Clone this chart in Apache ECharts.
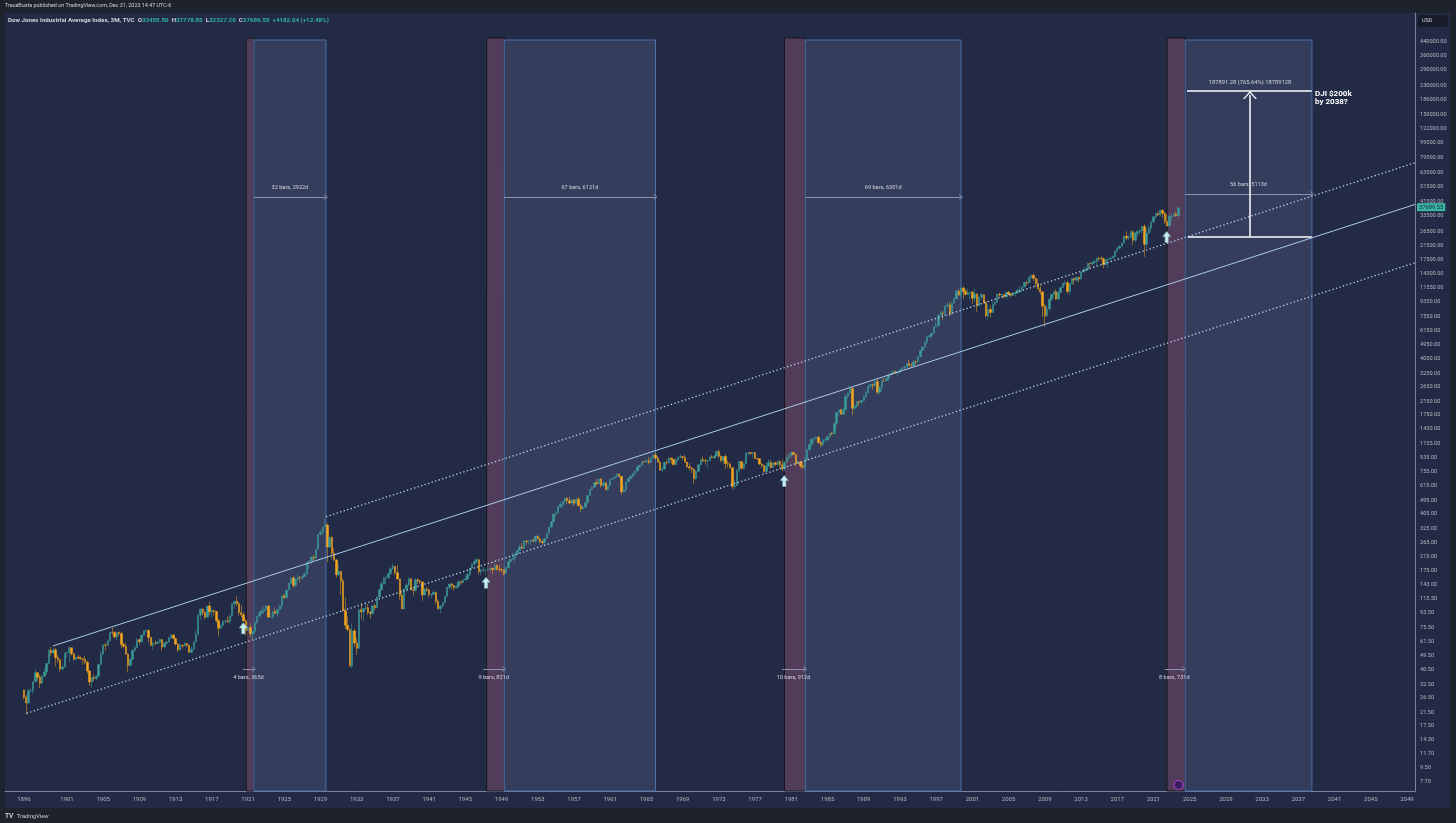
<!DOCTYPE html>
<html>
<head>
<meta charset="utf-8">
<title>Dow Jones Industrial Average Index, 3M</title>
<script src="https://cdn.jsdelivr.net/npm/echarts@6.0.0/dist/echarts.min.js"></script>
<style>
  html, body { margin: 0; padding: 0; background: #1e222d; overflow: hidden; }
  #pane { position: absolute; left: 5px; top: 13px; width: 1445px; height: 795px; background: #232a45; }
  #main { position: absolute; left: 0; top: 0; width: 1456px; height: 823px; }
</style>
</head>
<body>
<div id="pane"></div>
<div id="main"></div>
<script>
// quarterly bars, Apr 1896 .. Oct 2023 (open of each bar = previous close)
var firstBar = 1896.25;
var barStep = 0.25;
var firstOpen = 29.9;

var closes = [
  26.8, 24.6, 29.5,                 // 1896
  29.6, 33.7, 38.5, 36.1,           // 1897
  33.0, 36.6, 38.9, 44.2,
  53.8, 51.6, 54.0, 48.2,
  46.8, 40.8, 42.0, 51.6,           // 1900
  52.0, 55.8, 51.0, 47.1,
  48.5, 47.9, 47.6, 46.9,
  45.0, 39.5, 33.6, 35.9,
  35.4, 36.6, 43.5, 50.8,
  58.1, 57.8, 62.0, 70.2,           // 1905
  70.0, 65.5, 70.0, 68.9,
  58.5, 57.0, 50.8, 42.9,
  47.0, 53.7, 56.0, 62.9,
  61.0, 67.2, 71.5, 72.3,
  65.0, 57.8, 59.6, 59.4,           // 1910
  60.8, 63.0, 56.5, 59.6,
  60.8, 64.5, 67.5, 64.1,
  59.0, 54.0, 58.0, 57.5,
  59.5, 58.0, 52.1, 54.6,
  60.8, 68.0, 90.6, 99.2,           // 1915
  94.0, 87.7, 103.7, 95.0,
  96.7, 95.6, 83.5, 74.4,
  77.5, 82.6, 83.3, 82.2,
  89.0, 107.0, 111.0, 107.2,
  94.0, 91.0, 82.9, 72.0,           // 1920
  75.2, 68.5, 71.1, 81.1,
  89.0, 92.9, 96.3, 98.7,
  103.5, 87.9, 87.9, 95.5,
  92.5, 98.2, 103.4, 120.5,
  117.0, 131.0, 145.0, 156.7,       // 1925
  140.5, 154.0, 158.2, 157.2,
  160.1, 166.2, 197.6, 202.4,
  214.0, 210.8, 240.4, 300.0,
  308.9, 333.8, 343.5, 248.5,
  286.1, 226.3, 204.9, 164.6,       // 1930
  172.4, 150.2, 96.6, 77.9,
  73.3, 42.8, 71.6, 59.9,
  55.4, 98.1, 94.6, 99.9,
  101.0, 94.4, 92.6, 104.0,
  100.8, 118.2, 131.9, 144.1,       // 1935
  156.3, 157.7, 167.8, 179.9,
  186.4, 169.3, 154.6, 120.9,
  99.0, 133.9, 141.5, 154.8,
  131.8, 130.6, 152.5, 150.2,
  147.5, 121.9, 132.6, 131.1,       // 1940
  122.7, 123.1, 126.8, 111.0,
  99.5, 103.3, 109.1, 119.4,
  136.6, 143.4, 140.1, 135.9,
  138.8, 148.4, 146.7, 152.3,
  154.4, 164.9, 181.7, 192.9,       // 1945
  199.8, 205.6, 172.4, 177.2,
  177.2, 177.3, 177.5, 181.2,
  177.2, 189.5, 178.3, 177.3,
  177.1, 167.4, 182.5, 200.1,
  206.1, 209.1, 226.4, 235.4,       // 1950
  247.9, 242.6, 271.2, 269.2,
  269.5, 274.3, 270.6, 291.9,
  279.9, 268.3, 264.0, 280.9,
  303.5, 333.5, 360.5, 404.4,
  409.7, 451.4, 466.6, 488.4,       // 1955
  511.8, 492.8, 475.3, 499.5,
  474.8, 503.3, 456.3, 435.7,
  446.8, 478.2, 532.1, 583.7,
  601.7, 643.6, 632.1, 679.4,
  616.6, 640.6, 580.1, 615.9,       // 1960
  676.6, 684.0, 701.2, 731.1,
  706.9, 561.3, 578.9, 652.1,
  682.5, 706.9, 732.8, 763.0,
  813.3, 831.5, 875.4, 874.1,
  889.1, 868.0, 930.6, 969.3,       // 1965
  924.8, 870.1, 774.2, 785.7,
  866.0, 860.3, 926.7, 905.1,
  840.7, 897.8, 935.8, 943.8,
  935.5, 873.2, 813.1, 800.4,
  785.6, 683.5, 760.7, 838.9,       // 1970
  904.4, 891.1, 887.2, 890.2,
  940.7, 929.0, 953.3, 1020.0,
  951.0, 891.7, 947.1, 850.9,
  846.7, 802.4, 607.9, 616.2,
  768.2, 879.0, 793.9, 852.4,       // 1975
  999.5, 1002.8, 990.2, 1004.7,
  919.1, 916.3, 847.1, 831.2,
  757.4, 819.0, 865.8, 805.0,
  862.2, 842.0, 878.6, 838.7,
  785.8, 867.9, 932.4, 964.0,       // 1980
  1003.9, 976.9, 850.0, 875.0,
  822.8, 811.9, 896.3, 1046.5,
  1130.0, 1222.0, 1233.1, 1258.6,
  1164.9, 1132.4, 1206.7, 1211.6,
  1266.8, 1335.5, 1328.6, 1546.7,   // 1985
  1818.6, 1892.7, 1767.6, 1896.0,
  2304.7, 2418.5, 2596.3, 1938.8,
  1988.1, 2141.7, 2112.9, 2168.6,
  2293.6, 2440.1, 2692.8, 2753.2,
  2707.2, 2880.7, 2452.5, 2633.7,   // 1990
  2913.9, 2906.8, 3016.8, 3168.8,
  3235.5, 3318.5, 3271.7, 3301.1,
  3435.1, 3516.1, 3555.1, 3754.1,
  3636.0, 3625.0, 3843.2, 3834.4,
  4157.7, 4556.1, 4789.1, 5117.1,   // 1995
  5587.1, 5654.6, 5882.2, 6448.3,
  6583.5, 7672.8, 7945.3, 7908.3,
  8799.8, 8952.0, 7842.6, 9181.4,
  9786.2, 10970.8, 10337.0, 11497.1,
  10921.9, 10447.9, 10650.9, 10788.0, // 2000
  9878.8, 10502.4, 8847.6, 10021.5,
  10403.9, 9243.3, 7591.9, 8341.6,
  7992.1, 8985.4, 9275.1, 10453.9,
  10357.7, 10435.5, 10080.3, 10783.0,
  10503.8, 10275.0, 10568.7, 10717.5, // 2005
  11109.3, 11150.2, 11679.1, 12463.2,
  12354.4, 13408.6, 13895.6, 13264.8,
  12262.9, 11350.0, 10850.7, 8776.4,
  7608.9, 8447.0, 9712.3, 10428.1,
  10856.6, 9774.0, 10788.1, 11577.5,  // 2010
  12319.7, 12414.3, 10913.4, 12217.6,
  13212.0, 12880.1, 13437.1, 13104.1,
  14578.5, 14909.6, 15129.7, 16576.7,
  16457.7, 16826.6, 17042.9, 17823.1,
  17776.1, 17619.5, 16284.7, 17425.0, // 2015
  17685.1, 17930.0, 18308.2, 19762.6,
  20663.2, 21349.6, 22405.1, 24719.2,
  24103.1, 24271.4, 26458.3, 23327.5,
  25928.7, 26600.0, 26916.8, 28538.4,
  21917.2, 25812.9, 27781.7, 30606.5, // 2020
  32981.6, 34502.5, 33843.9, 36338.3,
  34678.4, 30775.4, 28725.5, 33147.3,
  33274.2, 34407.6, 33507.5, 37689.55
];

var highs = [
  30.0, 27.6, 30.4,
  31.0, 33.9, 40.7, 39.0,
  37.3, 37.2, 41.0, 44.5,
  54.5, 56.7, 55.7, 55.7,
  50.0, 47.0, 43.4, 51.9,           // 1900
  53.0, 57.1, 56.0, 51.3,
  49.0, 50.0, 49.6, 47.8,
  49.4, 46.0, 40.0, 36.0,
  37.5, 37.0, 43.8, 53.5,
  59.0, 60.0, 63.0, 70.5,           // 1905
  75.2, 71.5, 70.5, 71.0,
  70.4, 60.0, 60.0, 51.5,
  47.5, 54.5, 58.0, 64.5,
  63.5, 68.0, 72.5, 73.4,
  72.5, 65.5, 61.5, 62.0,           // 1910
  61.8, 63.6, 63.2, 60.5,
  61.5, 66.0, 68.7, 68.0,
  64.7, 60.0, 59.5, 58.5,
  60.9, 59.8, 58.5, 56.8,
  61.3, 71.8, 91.0, 99.2,           // 1915
  99.5, 95.5, 104.0, 110.2,
  99.2, 98.6, 96.0, 86.0,
  79.8, 84.0, 84.0, 89.1,
  91.0, 107.5, 112.0, 119.6,
  109.9, 105.0, 94.5, 85.5,         // 1920
  77.0, 80.0, 71.5, 81.5,
  89.0, 96.4, 101.0, 103.4,
  105.4, 105.0, 93.7, 95.6,
  101.3, 98.8, 105.6, 120.5,
  123.6, 131.0, 146.0, 159.4,       // 1925
  162.3, 154.8, 166.6, 161.0,
  162.0, 172.0, 198.0, 202.4,
  214.0, 220.9, 241.7, 300.0,
  322.1, 333.8, 381.2, 352.9,
  286.1, 294.1, 245.1, 207.0,       // 1930
  194.4, 173.2, 155.3, 116.8,
  88.8, 74.0, 79.9, 73.5,
  64.4, 98.1, 108.7, 99.9,
  110.7, 106.4, 96.0, 104.0,
  107.2, 120.0, 134.0, 148.4,       // 1935
  158.8, 163.1, 168.9, 184.9,
  194.4, 187.0, 190.4, 155.0,
  132.0, 134.0, 146.0, 158.4,
  155.5, 139.0, 155.9, 155.5,
  152.8, 150.0, 135.0, 138.1,       // 1940
  133.6, 124.0, 130.1, 127.0,
  114.2, 105.0, 109.6, 119.7,
  136.6, 143.4, 145.8, 141.8,
  141.0, 150.5, 150.8, 152.5,
  162.2, 169.1, 182.0, 195.8,       // 1945
  206.9, 212.5, 206.0, 177.6,
  184.5, 178.0, 186.9, 184.0,
  182.0, 193.2, 191.0, 190.0,
  182.0, 178.0, 184.0, 200.5,
  209.8, 228.4, 226.8, 235.5,       // 1950
  257.1, 263.1, 276.4, 276.0,
  275.4, 275.0, 280.3, 292.0,
  293.8, 282.0, 276.0, 284.0,
  304.0, 336.9, 363.3, 404.4,
  419.7, 451.4, 487.5, 488.4,       // 1955
  513.0, 521.1, 520.9, 503.0,
  500.0, 513.2, 520.8, 465.8,
  458.7, 478.2, 532.1, 583.7,
  609.9, 643.6, 678.1, 679.4,
  685.5, 656.4, 646.4, 617.8,       // 1960
  679.4, 705.5, 726.5, 734.9,
  734.0, 710.0, 616.0, 652.1,
  687.0, 726.9, 746.0, 767.2,
  820.3, 831.5, 875.7, 891.7,
  906.3, 939.6, 930.6, 969.3,       // 1965
  995.2, 954.7, 894.0, 820.9,
  876.7, 909.6, 943.1, 933.0,
  908.9, 919.9, 936.0, 985.2,
  952.7, 968.9, 875.0, 863.1,
  811.3, 792.5, 773.1, 842.0,       // 1970
  916.8, 950.8, 920.9, 893.0,
  950.2, 971.3, 973.5, 1036.3,
  1051.7, 963.2, 947.1, 987.1,
  891.7, 872.0, 804.0, 674.8,
  786.5, 879.0, 881.8, 860.7,       // 1975
  1009.2, 1011.0, 1014.8, 1004.7,
  1006.0, 929.7, 920.0, 856.6,
  835.0, 866.5, 907.7, 901.4,
  862.2, 878.7, 893.9, 897.6,
  903.8, 888.0, 967.7, 1000.2,      // 1980
  1015.2, 1024.1, 980.0, 891.7,
  882.5, 869.2, 936.0, 1070.6,
  1145.9, 1248.3, 1260.8, 1287.2,
  1286.6, 1186.6, 1239.7, 1244.2,
  1299.4, 1335.5, 1372.2, 1553.1,   // 1985
  1821.7, 1892.7, 1919.7, 1955.6,
  2405.5, 2446.0, 2722.4, 2641.0,
  2087.0, 2152.2, 2158.0, 2183.5,
  2347.1, 2531.9, 2752.1, 2791.4,
  2800.1, 2935.9, 2999.8, 2650.9,   // 1990
  2973.3, 3035.3, 3055.2, 3168.8,
  3290.3, 3413.2, 3395.4, 3333.3,
  3478.3, 3554.8, 3652.1, 3794.3,
  3978.4, 3795.0, 3953.9, 3936.0,
  4157.7, 4589.6, 4801.8, 5216.5,   // 1995
  5683.6, 5778.0, 5894.7, 6560.9,
  7085.2, 7796.5, 8259.3, 8178.3,
  8906.4, 9211.8, 9367.8, 9374.3,
  10006.8, 11107.2, 11326.0, 11497.1,
  11750.3, 11287.1, 11401.2, 10977.2, // 2000
  10983.6, 11350.1, 10610.0, 10184.3,
  10673.1, 10456.3, 9379.5, 9076.4,
  8869.0, 9389.0, 9686.4, 10487.8,
  10753.6, 10559.6, 10450.0, 10868.1,
  10984.5, 10717.7, 10720.2, 10959.9, // 2005
  11335.0, 11709.1, 11725.2, 12529.9,
  12795.9, 13692.0, 14022.0, 14198.1,
  13279.5, 13136.7, 11867.1, 10882.5,
  9088.1, 8877.9, 9918.0, 10580.3,
  10954.7, 11258.0, 10948.9, 11625.0, // 2010
  12391.3, 12876.0, 12753.9, 12328.5,
  13289.9, 13338.7, 13653.2, 13661.9,
  14585.1, 15542.4, 15709.6, 16588.3,
  16588.3, 16978.0, 17350.6, 18103.5,
  18288.6, 18351.4, 18137.1, 17977.9, // 2015
  17790.1, 18167.6, 18668.4, 19987.6,
  21169.1, 21535.0, 22419.5, 24876.1,
  26616.7, 25402.8, 26769.2, 26951.8,
  26241.4, 26952.2, 27398.7, 28701.7,
  29568.6, 27580.2, 29199.4, 30637.5, // 2020
  33259.6, 35091.6, 35631.2, 36565.7,
  36952.7, 35492.2, 34281.4, 34595.1,
  34342.3, 34588.7, 35679.1, 37778.85
];

var lows = [
  26.0, 20.8, 24.4,
  28.8, 28.1, 33.5, 34.3,
  30.7, 32.5, 36.0, 37.3,
  44.0, 49.5, 50.6, 42.5,
  44.5, 38.7, 39.5, 41.5,           // 1900
  48.0, 44.9, 49.7, 46.0,
  46.3, 47.0, 46.5, 43.5,
  43.7, 38.0, 31.7, 30.8,
  33.9, 34.5, 36.3, 43.2,
  50.2, 53.5, 57.5, 61.0,           // 1905
  67.5, 64.0, 62.2, 66.5,
  55.5, 55.5, 50.0, 38.7,
  42.8, 46.5, 52.5, 55.5,
  58.3, 60.5, 66.5, 69.5,
  60.0, 57.0, 53.7, 58.0,           // 1910
  59.0, 60.0, 53.2, 56.0,
  58.5, 60.5, 64.0, 63.5,
  57.5, 52.6, 53.8, 55.0,
  57.0, 56.5, 52.1, 52.1,
  54.2, 60.4, 67.5, 84.0,           // 1915
  90.0, 85.0, 86.5, 90.2,
  87.0, 90.0, 81.0, 65.9,
  73.4, 76.5, 80.0, 80.5,
  79.2, 88.5, 99.0, 103.6,
  89.7, 87.4, 82.0, 66.8,           // 1920
  71.5, 64.9, 63.9, 69.0,
  78.6, 87.5, 92.0, 92.0,
  96.0, 87.0, 86.5, 85.8,
  92.0, 88.3, 98.0, 99.2,
  115.0, 116.7, 130.0, 143.0,       // 1925
  135.2, 136.0, 152.0, 145.7,
  152.7, 160.0, 165.7, 179.8,
  191.3, 201.0, 205.0, 239.0,
  295.0, 293.4, 333.0, 198.7,
  244.2, 207.7, 201.0, 157.5,       // 1930
  161.5, 121.7, 95.0, 73.8,
  71.2, 42.0, 41.2, 56.3,
  50.2, 55.0, 84.5, 82.2,
  97.6, 90.5, 85.5, 90.6,
  96.7, 100.0, 118.0, 130.0,        // 1935
  143.1, 141.5, 155.0, 165.0,
  177.0, 163.7, 154.0, 113.6,
  98.9, 99.0, 127.0, 138.0,
  130.0, 121.4, 128.0, 144.0,
  143.0, 111.8, 121.0, 127.8,       // 1940
  117.7, 115.3, 122.0, 106.3,
  98.0, 92.9, 102.0, 108.0,
  119.3, 131.0, 133.0, 129.6,
  134.2, 134.8, 142.0, 144.5,
  151.4, 152.7, 160.9, 181.0,       // 1945
  186.0, 195.0, 165.2, 163.1,
  171.6, 163.2, 174.0, 175.0,
  165.4, 176.0, 175.0, 171.2,
  171.0, 161.6, 167.0, 180.0,
  196.8, 206.0, 197.5, 222.0,       // 1950
  235.0, 241.5, 242.0, 256.0,
  258.5, 256.4, 266.0, 263.1,
  279.0, 262.1, 255.5, 262.5,
  279.9, 303.0, 331.0, 352.1,
  388.2, 408.5, 444.0, 438.6,       // 1955
  462.4, 468.8, 468.0, 466.1,
  454.8, 474.0, 455.0, 419.8,
  435.0, 440.0, 475.0, 530.9,
  574.5, 599.1, 616.5, 630.0,
  599.1, 599.6, 578.0, 566.1,       // 1960
  610.3, 672.7, 681.8, 697.2,
  689.9, 535.8, 557.0, 558.1,
  646.8, 680.0, 687.0, 711.5,
  762.0, 798.5, 823.4, 857.5,
  869.7, 840.6, 865.0, 929.0,       // 1965
  911.1, 864.1, 772.7, 744.3,
  784.0, 842.4, 859.7, 849.6,
  825.1, 836.0, 883.0, 925.0,
  899.8, 869.8, 802.0, 769.9,
  744.1, 631.2, 669.4, 753.6,       // 1970
  830.6, 873.1, 839.6, 798.0,
  889.2, 925.1, 910.5, 946.4,
  922.7, 869.1, 851.9, 788.3,
  803.9, 795.4, 584.6, 577.6,
  612.0, 742.9, 784.2, 784.2,       // 1975
  848.0, 958.1, 973.7, 924.0,
  918.1, 898.7, 834.7, 800.9,
  742.1, 751.0, 810.1, 792.5,
  800.0, 821.1, 832.0, 796.7,
  760.0, 759.1, 865.2, 908.5,       // 1980
  931.6, 967.7, 824.0, 844.1,
  795.5, 788.6, 776.9, 890.0,
  1027.0, 1113.5, 1163.1, 1223.5,
  1134.2, 1086.9, 1086.6, 1163.6,
  1185.0, 1242.1, 1297.9, 1318.9,   // 1985
  1502.3, 1735.5, 1763.0, 1760.0,
  1890.0, 2215.9, 2397.1, 1738.7,
  1879.1, 1941.5, 1990.6, 2038.6,
  2144.6, 2282.4, 2435.0, 2569.3,
  2543.2, 2645.1, 2382.0, 2365.1,   // 1990
  2470.3, 2873.0, 2895.0, 2863.8,
  3155.0, 3181.4, 3253.5, 3136.6,
  3242.0, 3370.8, 3449.9, 3537.0,
  3626.8, 3593.4, 3610.0, 3674.6,
  3832.1, 4138.7, 4540.0, 4703.8,   // 1995
  5000.0, 5485.6, 5346.6, 5870.0,
  6442.5, 6391.7, 7580.0, 7161.2,
  7580.4, 8627.9, 7539.1, 7632.5,
  9120.7, 9700.0, 10213.5, 9884.2,
  9731.8, 10299.2, 10405.0, 9654.6, // 2000
  9106.5, 9389.5, 8062.3, 8836.8,
  9529.5, 9120.1, 7459.2, 7197.5,
  7416.6, 7900.0, 8903.0, 9250.0,
  10007.2, 9852.2, 9814.7, 9708.4,
  10368.6, 10000.5, 10210.8, 10156.5, // 2005
  10661.2, 10683.3, 10706.1, 11670.2,
  11939.6, 12328.3, 12517.9, 12724.1,
  11634.8, 11287.4, 10365.5, 7449.4,
  6470.0, 7447.7, 8087.2, 9487.7,
  9835.1, 9614.3, 9614.3, 10711.1,  // 2010
  11555.0, 11862.5, 10604.1, 10404.5,
  12200.0, 12035.1, 12492.3, 12471.5,
  13080.0, 14434.4, 14719.4, 14719.4,
  15340.7, 16015.3, 16333.8, 15855.1,
  17037.8, 17576.5, 15370.3, 16013.7, // 2015
  15450.6, 17063.1, 17713.5, 17883.6,
  19677.9, 20379.6, 21279.3, 22300.0,
  23344.5, 23344.5, 24077.6, 21712.5,
  22638.4, 24680.6, 25339.6, 25743.5,
  18213.7, 20735.0, 25523.7, 26143.8, // 2020
  29856.3, 32071.0, 33613.0, 33150.3,
  32272.6, 29653.3, 28715.9, 28660.9,
  31429.8, 32580.4, 33006.7, 32327.2
];

// axis tick labels
var yTicks = [7.7, 9.5, 11.7, 14.3, 17.5, 21.5, 26.5, 32.5, 40.5, 49.5, 61.5, 75.5, 93.5,
  115.5, 143, 175, 215, 265, 325, 405, 495, 615, 755, 935, 1155, 1430, 1750, 2150, 2650,
  3250, 4050, 4950, 6150, 7550, 9350, 11550, 14300, 17500, 21500, 26500, 33500, 41500,
  51500, 63500, 79500, 99500, 122000, 150000, 186000, 230000, 290000, 360000, 440000];
var xTicks = [1896.25, 1901, 1905, 1909, 1913, 1917, 1921, 1925, 1929, 1933, 1937, 1941,
  1945, 1949, 1953, 1957, 1961, 1965, 1969, 1973, 1977, 1981, 1985, 1989, 1993, 1997,
  2001, 2005, 2009, 2013, 2017, 2021, 2025, 2029, 2033, 2037, 2041, 2045, 2049];

// drawings (time in years, price in index points)
var redStarts = [1920.8, 1947.35, 1980.25, 2022.5];
var redEnds = [1921.65, 1949.3, 1982.55, 2024.5];
var blueEnds = [1929.6, 1966.0, 1999.75, 2038.5];
var redTop = 466000;
var blueTop = 452000;

var spanLabels = ['32 bars, 2922d', '67 bars, 6121d', '69 bars, 6301d', '56 bars, 5113d'];
var spanPrices = [44200, 44200, 44200, 46200];
var shortStarts = [1920.44, 1946.98, 1979.97, 2022.25];
var shortEnds = [1921.65, 1949.27, 1982.51, 2024.35];
var shortLabels = ['4 bars, 365d', '9 bars, 821d', '10 bars, 912d', '8 bars, 731d'];
var shortPrice = 40.7;

var channelMid = [[1899.45, 57.3], [2049.87, 39570]];
var channelUp = [[1929.61, 388.6], [2049.87, 73380]];
var channelLow = [[1896.55, 21.14], [2049.87, 16690]];

var rangeFrom = 2024.7, rangeTo = 2038.48, rangeMid = 2031.66;
var rangeLow = 24540.6, rangeHigh = 212431.9, arrowTip = 200100;
var rangeText = '187891.28 (765.64%) 18789128';

var arrowMarks = [[1920.47, 74.4], [1947.28, 146.2], [1980.22, 659], [2022.46, 24440]];
var noteAt = [2038.9, 215600];
var noteText = 'DJI $200k\nby 2038?';
var eventAt = [2023.76, 7.31];

var lastClose = 37689.55;

var X_MIN = 1894.152, X_MAX = 2049.886;
var Y_MIN = 0.8254, Y_MAX = 5.8287;

var LOG = function (v) { return Math.log10(v); };
var upColor = '#3c9c98';
var downColor = '#f7a71e';
var drawColor = '#a9cbe8';
var dotColor = '#bcd7ef';
var greyArrow = '#8c93ad';
var chevron = 'path://M0 8 L7 0 L14 8 L12.4 8 L7 2 L1.6 8 Z';

var candles = [];
var prev = firstOpen;
for (var i = 0; i < closes.length; i++) {
  candles.push([firstBar + i * barStep, LOG(prev), LOG(closes[i]), LOG(lows[i]), LOG(highs[i])]);
  prev = closes[i];
}

var areas = [];
for (i = 0; i < redStarts.length; i++) {
  areas.push([
    { coord: [redStarts[i], LOG(redTop)], itemStyle: { color: 'rgba(195,110,140,0.29)', borderColor: '#15161f', borderWidth: 1 } },
    { coord: [redEnds[i], Y_MIN] }
  ]);
  areas.push([
    { coord: [redEnds[i], LOG(blueTop)], itemStyle: { color: 'rgba(120,130,180,0.22)', borderColor: '#4a70a8', borderWidth: 1 } },
    { coord: [blueEnds[i], Y_MIN] }
  ]);
}

function seg(a, b, style, extra) {
  var from = { coord: [a[0], LOG(a[1])], lineStyle: style, symbol: 'none' };
  var to = { coord: [b[0], LOG(b[1])], symbol: 'none' };
  if (extra) {
    for (var k in extra.from || {}) from[k] = extra.from[k];
    for (var k2 in extra.to || {}) to[k2] = extra.to[k2];
  }
  return [from, to];
}

var lines = [];
lines.push(seg(channelMid[0], channelMid[1], { color: drawColor, width: 1, type: 'solid' }));
lines.push(seg(channelUp[0], channelUp[1], { color: dotColor, width: 1.3, type: [1.3, 2.4] }));
lines.push(seg(channelLow[0], channelLow[1], { color: dotColor, width: 1.3, type: [1.3, 2.4] }));

for (i = 0; i < 4; i++) {
  lines.push(seg([redEnds[i], spanPrices[i]], [blueEnds[i], spanPrices[i]],
    { color: greyArrow, width: 1, type: 'solid' },
    { from: { label: { show: true, position: 'insideMiddleTop', distance: 6, formatter: spanLabels[i], color: '#d1d4dc', fontSize: 5.6 } },
      to: { symbol: chevron, symbolSize: [6, 4] } }));
  lines.push(seg([shortStarts[i], shortPrice], [shortEnds[i], shortPrice],
    { color: greyArrow, width: 1, type: 'solid' },
    { from: { label: { show: true, position: 'insideMiddleBottom', distance: 6, formatter: shortLabels[i], color: '#d1d4dc', fontSize: 5.6 } },
      to: { symbol: chevron, symbolSize: [6, 4] } }));
}

var white = { color: '#ffffff', width: 1.5, type: 'solid' };
lines.push(seg([rangeFrom, rangeHigh], [rangeTo, rangeHigh], white));
lines.push(seg([rangeFrom + 0.1, rangeLow], [rangeTo, rangeLow], white));
lines.push(seg([rangeMid, rangeLow], [rangeMid, arrowTip], white,
  { from: { label: { show: true, position: 'end', distance: 9, formatter: rangeText, color: '#d1d4dc', fontSize: 5.8 } },
    to: { symbol: chevron, symbolSize: [14, 8] } }));

var points = [];
for (i = 0; i < arrowMarks.length; i++) {
  points.push({
    coord: [arrowMarks[i][0], LOG(arrowMarks[i][1])],
    symbol: 'path://M5 0 L10 6 L7 6 L7 13 L3 13 L3 6 L0 6 Z',
    symbolSize: [8, 11],
    itemStyle: { color: '#c8eef4', borderColor: '#8cc6cf', borderWidth: 0.5 }
  });
}
points.push({
  coord: [noteAt[0], LOG(noteAt[1])],
  symbol: 'circle', symbolSize: 1,
  itemStyle: { color: 'rgba(0,0,0,0)' },
  label: { show: true, position: [0, 0], formatter: noteText, color: '#ffffff', fontWeight: 'bold', fontSize: 8, lineHeight: 8.5 }
});
points.push({
  coord: [eventAt[0], LOG(eventAt[1])],
  symbol: 'circle', symbolSize: 9,
  itemStyle: { color: '#3a1d5c', borderColor: '#b33fd8', borderWidth: 1.2 }
});

var chart = echarts.init(document.getElementById('main'), null, { renderer: 'canvas' });

var option = {
  animation: false,
  backgroundColor: 'transparent',
  textStyle: { fontFamily: 'Roboto, "Noto Sans", sans-serif' },
  title: {
    left: 8, top: 17, padding: 0,
    text: '{n|Dow Jones Industrial Average Index, 3M, TVC}  {k|O}{v|33455.50}  {k|H}{v|37778.85}  {k|L}{v|32327.20}  {k|C}{v|37689.55}  {v|+4182.04 (+12.48%)}',
    textStyle: {
      fontSize: 6.2,
      rich: {
        n: { color: '#d1d4dc', fontSize: 6.2 },
        k: { color: '#d1d4dc', fontSize: 6.2 },
        v: { color: '#2fb3a5', fontSize: 6.2 }
      }
    }
  },
  graphic: [
    { type: 'text', left: 5, top: 3, style: { text: 'TraceBusta published on TradingView.com, Dec 31, 2023 14:47 UTC-6', fill: '#d1d4dc', font: '5.4px Roboto' } },
    { type: 'rect', shape: { x: 1418, y: 15, width: 30, height: 12, r: 2 }, style: { fill: '#181c29' } },
    { type: 'text', left: 1422, top: 18, style: { text: 'USD', fill: '#d1d4dc', font: '5.5px Roboto' } },
    { type: 'text', left: 5, top: 810, style: { text: '{l|TV} {t|TradingView}', rich: { l: { fontWeight: 'bold', fontSize: 6.5, fill: '#d1d4dc' }, t: { fontSize: 5.8, fill: '#d1d4dc' } } } }
  ],
  grid: { left: 5, right: 41, top: 13, bottom: 32 },
  xAxis: {
    type: 'value', min: X_MIN, max: X_MAX,
    axisLine: { show: true, onZero: false, lineStyle: { color: '#7d8298', width: 1 } },
    axisTick: { show: false },
    splitLine: { show: false },
    axisLabel: {
      customValues: xTicks,
      formatter: function (v) { return String(Math.floor(v)); },
      color: '#b2b5be', fontSize: 6, margin: 5
    }
  },
  yAxis: {
    type: 'value', position: 'right', min: Y_MIN, max: Y_MAX,
    axisLine: { show: true, onZero: false, lineStyle: { color: '#7d8298', width: 1 } },
    axisTick: { show: false },
    splitLine: { show: false },
    axisLabel: {
      customValues: yTicks.map(LOG),
      formatter: function (v) { return Math.pow(10, v).toFixed(2); },
      color: '#b2b5be', fontSize: 5.6, margin: 5
    }
  },
  series: [
    {
      name: 'ranges', type: 'line', data: [], silent: true,
      markArea: { silent: true, z: 1, data: areas }
    },
    {
      name: 'DJI', type: 'candlestick', data: candles, z: 3,
      barWidth: 1.9,
      itemStyle: { color: upColor, color0: downColor, borderColor: upColor, borderColor0: downColor, borderWidth: 0.5 }
    },
    {
      name: 'drawings', type: 'line', data: [], silent: true, z: 6,
      markLine: { silent: true, symbol: 'none', label: { show: false }, data: lines },
      markPoint: { silent: true, label: { show: false }, data: points }
    },
    {
      name: 'last', type: 'line', data: [], silent: true, z: 7,
      markLine: {
        silent: true, symbol: 'none',
        data: [{
          yAxis: LOG(lastClose),
          lineStyle: { color: 'rgba(0,0,0,0)', width: 0 },
          label: { show: true, position: 'end', distance: 2, formatter: '37689.55', color: '#0d2b29', backgroundColor: '#3cb5a6', padding: [1, 2], fontSize: 5.8 }
        }]
      }
    }
  ]
};

chart.setOption(option);
</script>
</body>
</html>
